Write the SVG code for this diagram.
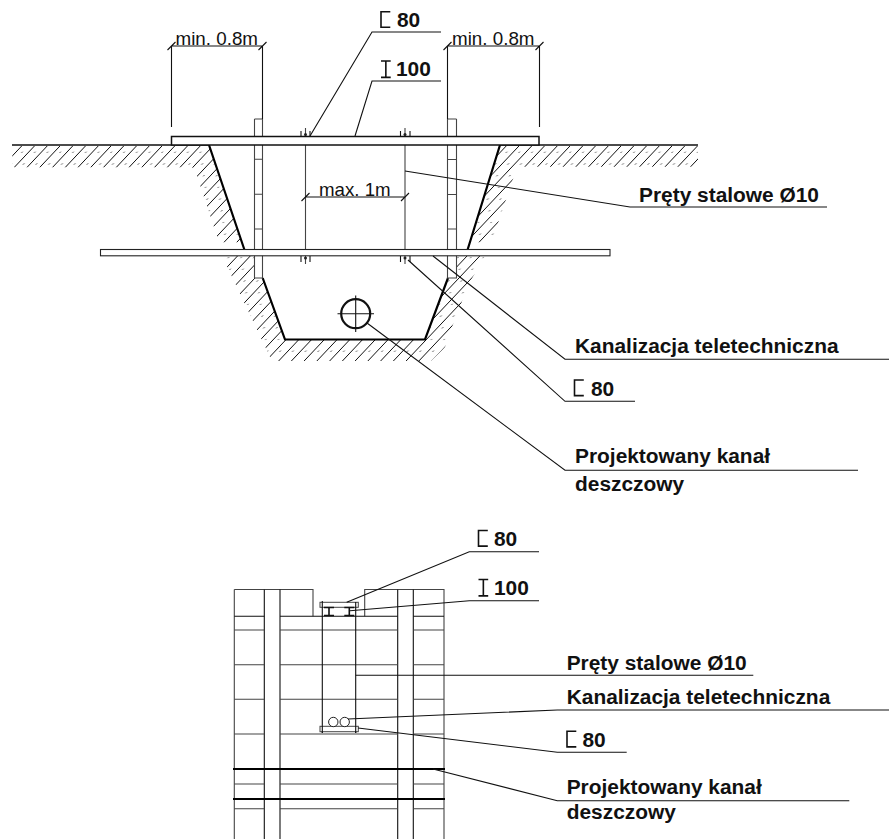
<svg xmlns="http://www.w3.org/2000/svg" width="889" height="839" viewBox="0 0 889 839">
<style>
text{font-family:"Liberation Sans",Arial,sans-serif;fill:#111}
.b{font-size:20.900px;font-weight:700}
.r{font-size:17.800px}
.l{fill:none;stroke:#111;stroke-width:1.100}
.g{fill:none;stroke:#444;stroke-width:1.100}
.t{fill:none;stroke:#000;stroke-width:2.200}
.m{fill:none;stroke:#111;stroke-width:1.600}
.w{fill:#fff;stroke:#222;stroke-width:1.100}
.h{fill:none;stroke:#111;stroke-width:1}
</style>
<defs>
<pattern id="dots" patternUnits="userSpaceOnUse" width="12.75" height="11.7" patternTransform="translate(22,152.3) skewX(-43.4)">
<rect x="-.5" y="-.5" width="1" height="1" fill="#111"/><rect x="12.25" y="-.5" width="1" height="1" fill="#111"/><rect x="-.5" y="11.2" width="1" height="1" fill="#111"/><rect x="12.25" y="11.2" width="1" height="1" fill="#111"/>
</pattern>
<clipPath id="cUL"><polygon points="12.3,146 209,146 244,250 241.4,242.3 219,242.3 196.7,175 192.3,167.3 14,167.3 12.3,165"/></clipPath>
<clipPath id="cUR"><polygon points="500,146 698,146 698,166.7 523,166.7 513.7,176.7 494.3,234 486,242.3 470.5,242.3"/></clipPath>
<clipPath id="cL"><polygon points="225,256 254.5,256 254.5,278 262.7,278 285,339.5 425,339.5 448,278 456.5,278 456.5,256 485,256 467,287 460,307 452,327 445,347 431,361 278,361 270,357 225,262"/></clipPath>
<path id="fam" d="M21.7 146l-211.6 224M34.45 146l-211.6 224M47.2 146l-211.6 224M59.95 146l-211.6 224M72.7 146l-211.6 224M85.45 146l-211.6 224M98.2 146l-211.6 224M110.95 146l-211.6 224M123.7 146l-211.6 224M136.45 146l-211.6 224M149.2 146l-211.6 224M161.95 146l-211.6 224M174.7 146l-211.6 224M187.45 146l-211.6 224M200.2 146l-211.6 224M212.95 146l-211.6 224M225.7 146l-211.6 224M238.45 146l-211.6 224M251.2 146l-211.6 224M263.95 146l-211.6 224M276.7 146l-211.6 224M289.45 146l-211.6 224M302.2 146l-211.6 224M314.95 146l-211.6 224M327.7 146l-211.6 224M340.45 146l-211.6 224M353.2 146l-211.6 224M365.95 146l-211.6 224M378.7 146l-211.6 224M391.45 146l-211.6 224M404.2 146l-211.6 224M416.95 146l-211.6 224M429.7 146l-211.6 224M442.45 146l-211.6 224M455.2 146l-211.6 224M467.95 146l-211.6 224M480.7 146l-211.6 224M493.45 146l-211.6 224M506.2 146l-211.6 224M518.95 146l-211.6 224M531.7 146l-211.6 224M544.45 146l-211.6 224M557.2 146l-211.6 224M569.95 146l-211.6 224M582.7 146l-211.6 224M595.45 146l-211.6 224M608.2 146l-211.6 224M620.95 146l-211.6 224M633.7 146l-211.6 224M646.45 146l-211.6 224M659.2 146l-211.6 224M671.95 146l-211.6 224M684.7 146l-211.6 224M697.45 146l-211.6 224M710.2 146l-211.6 224M722.95 146l-211.6 224"/>
<path id="chan" d="M9.3 0H0V15.6H9.3"/>
<path id="ibeam" d="M0 0H9.7M4.85 0V16.4M0 16.4H9.7"/>
</defs>
<rect width="889" height="839" fill="#fff"/>

<g id="soil">
<g clip-path="url(#cUL)"><use href="#fam" class="h"/><rect x="0" y="140" width="260" height="120" fill="url(#dots)"/></g>
<g clip-path="url(#cUR)"><use href="#fam" class="h"/><rect x="460" y="140" width="245" height="120" fill="url(#dots)"/></g>
<g clip-path="url(#cL)"><use href="#fam" x="1" class="h"/><rect x="220" y="250" width="270" height="120" fill="url(#dots)"/></g>
<path class="m" d="M12 145H209M500 145H698"/>
<path class="t" d="M209 145L244.500 250M500 145L467.500 250M262.700 278L285 339.500H425L448 278"/>
</g>

<g id="section-piles">
<path class="g" d="M254.500 119H262.500M254.500 119V278H262.500V119M254.500 159.300H262.500M254.500 194.300H262.500M254.500 229H262.500"/>
<path class="g" d="M447.500 119H456.500M447.500 119V278H456.500V119M447.500 159.500H456.500M447.500 194.500H456.500M447.500 229H456.500"/>
</g>
<g id="section-rods">
<path class="g" d="M305.500 128V264M405 128V264"/>
<path class="l" d="M301 131V136M310 131V136M400.500 131V136M410 131V136M301 256V262M310 256V262M400.500 256V262M410 256V262"/>
<circle cx="305.500" cy="134.500" r="1.500" fill="#222"/><circle cx="405" cy="134.500" r="1.500" fill="#222"/>
<circle cx="305.500" cy="258" r="1.500" fill="#222"/><circle cx="405" cy="258" r="1.500" fill="#222"/>
</g>
<g id="beam-top"><rect x="171.500" y="136.500" width="367.500" height="8.500" fill="#fff" stroke="#111" stroke-width="1.500"/></g>
<g id="beam-cross"><rect x="100.500" y="249.500" width="509.500" height="6.300" class="w"/></g>
<g id="pipe">
<circle cx="355.700" cy="313.700" r="14.500" fill="none" stroke="#111" stroke-width="2.200"/>
<path class="l" d="M337.500 313.700H374M355.700 295.500V332"/>
</g>

<g id="dimensions">
<path class="l" d="M171.500 127V46H262.500V119M167.500 50L175.500 42M258.500 50L266.500 42"/>
<path class="l" d="M447.500 119V46H539.500V127M443.500 50L451.500 42M535.500 50L543.500 42"/>
<path class="l" d="M305.500 197H405M301.500 201L309.500 193M401 201L409 193"/>
<text class="r" x="175.500" y="44.700" textLength="82.500" lengthAdjust="spacingAndGlyphs">min. 0.8m</text>
<text class="r" x="452" y="44.700" textLength="82.500" lengthAdjust="spacingAndGlyphs">min. 0.8m</text>
<text class="r" x="319" y="196" textLength="71.700" lengthAdjust="spacingAndGlyphs">max. 1m</text>
</g>

<g id="plan">
<g id="plan-frame">
<path class="g" d="M234.300 589.500H313V616.300M364.700 616.300V589.500H444V839M234.300 589.500V839"/>
<path class="l" d="M264.300 589.500V839M280 589.500V839M397.700 589.500V839M413.300 589.500V839"/>
<path class="l" d="M234.300 616.300H264.300M280 616.300H397.700M413.300 616.300H444"/>
<path class="g" d="M234.300 630H264.300M280 630H397.700M413.300 630H444M234.300 664.700H264.300M280 664.700H397.700M413.300 664.700H444M234.300 699.300H264.300M280 699.300H397.700M413.300 699.300H444M234.300 734H264.300M280 734H397.700M413.300 734H444M234.300 784H264.300M280 784H397.700M413.300 784H444M234.300 808.700H264.300M280 808.700H397.700M413.300 808.700H444"/>
</g>
<g id="plan-drain"><path class="t" d="M233 769H445M233 799H445"/></g>
<g id="plan-top-profile">
<rect x="320" y="602.300" width="38.300" height="5" fill="#fff" stroke="#444"/>
<path class="l" d="M322.300 601V733M355.700 602V733"/>
<path class="m" d="M324 607.500H334M329 607.500V615.500M324 615.500H334M344.300 607.500H354.300M349.300 607.500V615.500M344.300 615.500H354.300"/>
</g>
<g id="plan-bottom-profile">
<rect x="320" y="726.300" width="38.300" height="5.400" fill="#fff" stroke="#444"/>
<path class="l" d="M322.300 726V733M355.700 726V733"/>
<circle cx="333.300" cy="722" r="4.700" fill="#fff" stroke="#222"/>
<circle cx="344.700" cy="722" r="4.700" fill="#fff" stroke="#222"/>
</g>
</g>

<g id="connectors">
<path class="l" d="M310 136L372 32H441M355 136L372 81H441M405 171L630 207H827M433 256L565 359.300H889M408 260L565 401.300H635M367 323L565 470.300H858"/>
<path class="l" d="M346.700 602.300L469.300 551.700H539M350 610.700L469.300 600.700H539M355.700 675.300H753.300M348 719L557.300 710H889M358 728L557.300 752.300H626.700M433 769L557.300 800.700H849.300"/>
</g>

<g id="labels">
<use href="#chan" x="381" y="11.700" class="m"/><text class="b" x="397" y="26.500">80</text>
<use href="#ibeam" x="381" y="61" class="m"/><text class="b" x="396" y="76">100</text>
<text class="b" x="639" y="202">Pręty stalowe Ø10</text>
<text class="b" x="575" y="352.700">Kanalizacja teletechniczna</text>
<use href="#chan" x="574.500" y="380" class="m"/><text class="b" x="591" y="396">80</text>
<text class="b" x="575" y="463">Projektowany kanał</text>
<text class="b" x="575" y="491">deszczowy</text>
<use href="#chan" x="478.500" y="530.500" class="m"/><text class="b" x="494" y="546">80</text>
<use href="#ibeam" x="478.500" y="579.500" class="m"/><text class="b" x="494" y="595">100</text>
<text class="b" x="566.700" y="670">Pręty stalowe Ø10</text>
<text class="b" x="566.700" y="703.700">Kanalizacja teletechniczna</text>
<use href="#chan" x="567" y="731.300" class="m"/><text class="b" x="582.500" y="746.500">80</text>
<text class="b" x="566.700" y="794">Projektowany kanał</text>
<text class="b" x="566.700" y="819">deszczowy</text>
</g>
</svg>
